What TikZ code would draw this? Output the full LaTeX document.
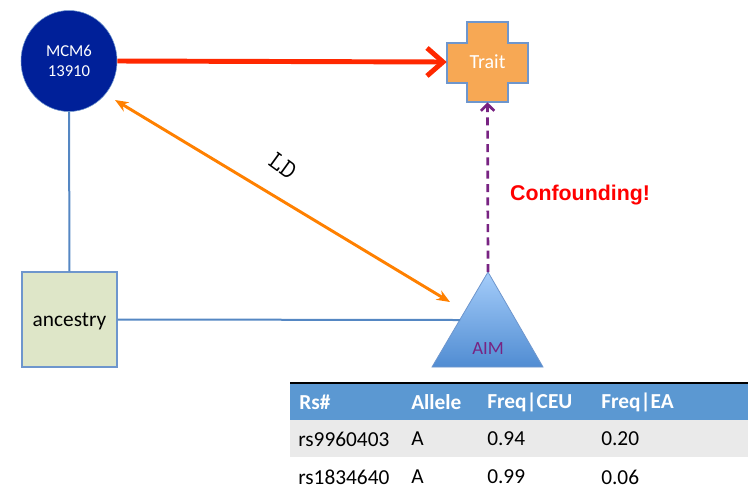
\documentclass[tikz,border=0pt]{standalone}
\usepackage{fontspec}
\setmainfont{Carlito}
\newfontfamily\alertfont{Liberation Sans}
\usetikzlibrary{arrows.meta,shapes.geometric}

\begin{document}
\begin{tikzpicture}[x=.75pt, y=-.75pt,
	link/.style={draw=lineblue, line width=1.5pt},
	cell/.style={anchor=west, inner sep=0pt, font=\fontsize{16}{18}\selectfont},
	headcell/.style={cell, text=white, font=\fontsize{16}{18}\selectfont\bfseries}]
	\definecolor{navy}{RGB}{0, 32, 153}
	\definecolor{edgeblue}{RGB}{110, 150, 205}
	\definecolor{lineblue}{RGB}{85, 135, 195}
	\definecolor{traitorange}{RGB}{247, 168, 84}
	\definecolor{ancgreen}{RGB}{222, 230, 200}
	\definecolor{arrowred}{RGB}{255, 40, 0}
	\definecolor{ldorange}{RGB}{255, 128, 0}
	\definecolor{aimpurple}{RGB}{120, 35, 130}
	\definecolor{headblue}{RGB}{91, 152, 210}
	\definecolor{rowgray}{RGB}{234, 234, 234}

	\useasboundingbox (0, 0) rectangle (755, 490);

	% nodes
	\node[ellipse, fill=navy, draw=edgeblue, minimum width=72pt, minimum height=75.75pt,
		text=white, align=center, font=\fontsize{12.5}{15}\selectfont] (mcm) at (69, 61) {MCM6\\13910};
	\node[draw=edgeblue, fill=ancgreen, line width=.8pt, minimum width=71.25pt, minimum height=71.25pt,
		text depth=-2pt, font=\fontsize{16}{18}\selectfont] (anc) at (69.5, 319.5) {ancestry};

	% trait cross
	\fill[traitorange, draw=edgeblue, line width=.8pt] (467, 22) -- (508, 22) -- (508, 43) -- (528, 43) -- (528, 83)
		-- (508, 83) -- (508, 102) -- (467, 102) -- (467, 83) -- (447, 83) -- (447, 43) -- (467, 43) -- cycle;
	\node[minimum width=60.75pt, minimum height=60pt, text=white, font=\fontsize{15}{18}\selectfont] (trait) at (487.5, 62) {Trait};

	% aim triangle
	\shade[top color={rgb,255:red,165;green,205;blue,250}, bottom color={rgb,255:red,80;green,140;blue,210},
		draw=edgeblue, line width=.6pt] (488, 272) -- (543, 367) -- (432, 367) -- cycle;
	\node[text=aimpurple, font=\fontsize{14}{16}\selectfont] (aim) at (488, 348) {AIM};
	\coordinate (aimtop) at (488, 272);
	\coordinate (aimleft) at (460, 320);
	\coordinate (ldstart) at (115, 100);
	\coordinate (ldend) at (450, 302);

	% connectors
	\draw[link] (mcm.south) -- (anc.north);
	\draw[link] (anc.east) -- (aimleft);
	\draw[arrowred, line width=3.7pt, -{Straight Barb[length=12pt, width=21pt]}] (mcm.east) -- (trait.west);
	\draw[ldorange, line width=2.2pt, {Stealth[length=10pt, width=8pt]}-{Stealth[length=10pt, width=8pt]}] (ldstart) -- (ldend);
	\draw[aimpurple, line width=2pt, dash pattern=on 6pt off 4pt, -{Straight Barb[length=5pt, width=10pt]}] (aimtop) -- (trait.south);

	% labels
	\node[rotate=-36, inner sep=0pt, font=\ttfamily\fontsize{20}{20}\selectfont] (ld) at (283, 166) {LD};
	\node[text=red, font=\alertfont\bfseries\fontsize{16}{18}\selectfont] (conf) at (580, 195) {Confounding!};

	% table
	\fill[headblue] (290, 383) rectangle (748, 420);
	\fill[rowgray] (290, 420) rectangle (748, 457);
	\draw[line width=1.5pt] (290, 383) -- (748, 383);
	\node[headcell] (h1) at (299, 402) {Rs\#};
	\node[headcell] (h2) at (411, 402) {Allele};
	\node[headcell] (h3) at (487, 402) {Freq|CEU};
	\node[headcell] (h4) at (601, 402) {Freq|EA};
	\node[cell] (a1) at (298, 439) {rs9960403};
	\node[cell] (a2) at (411, 439) {A};
	\node[cell] (a3) at (487, 439) {0.94};
	\node[cell] (a4) at (601, 439) {0.20};
	\node[cell] (b1) at (298, 477) {rs1834640};
	\node[cell] (b2) at (411, 477) {A};
	\node[cell] (b3) at (487, 477) {0.99};
	\node[cell] (b4) at (601, 477) {0.06};
\end{tikzpicture}
\end{document}
